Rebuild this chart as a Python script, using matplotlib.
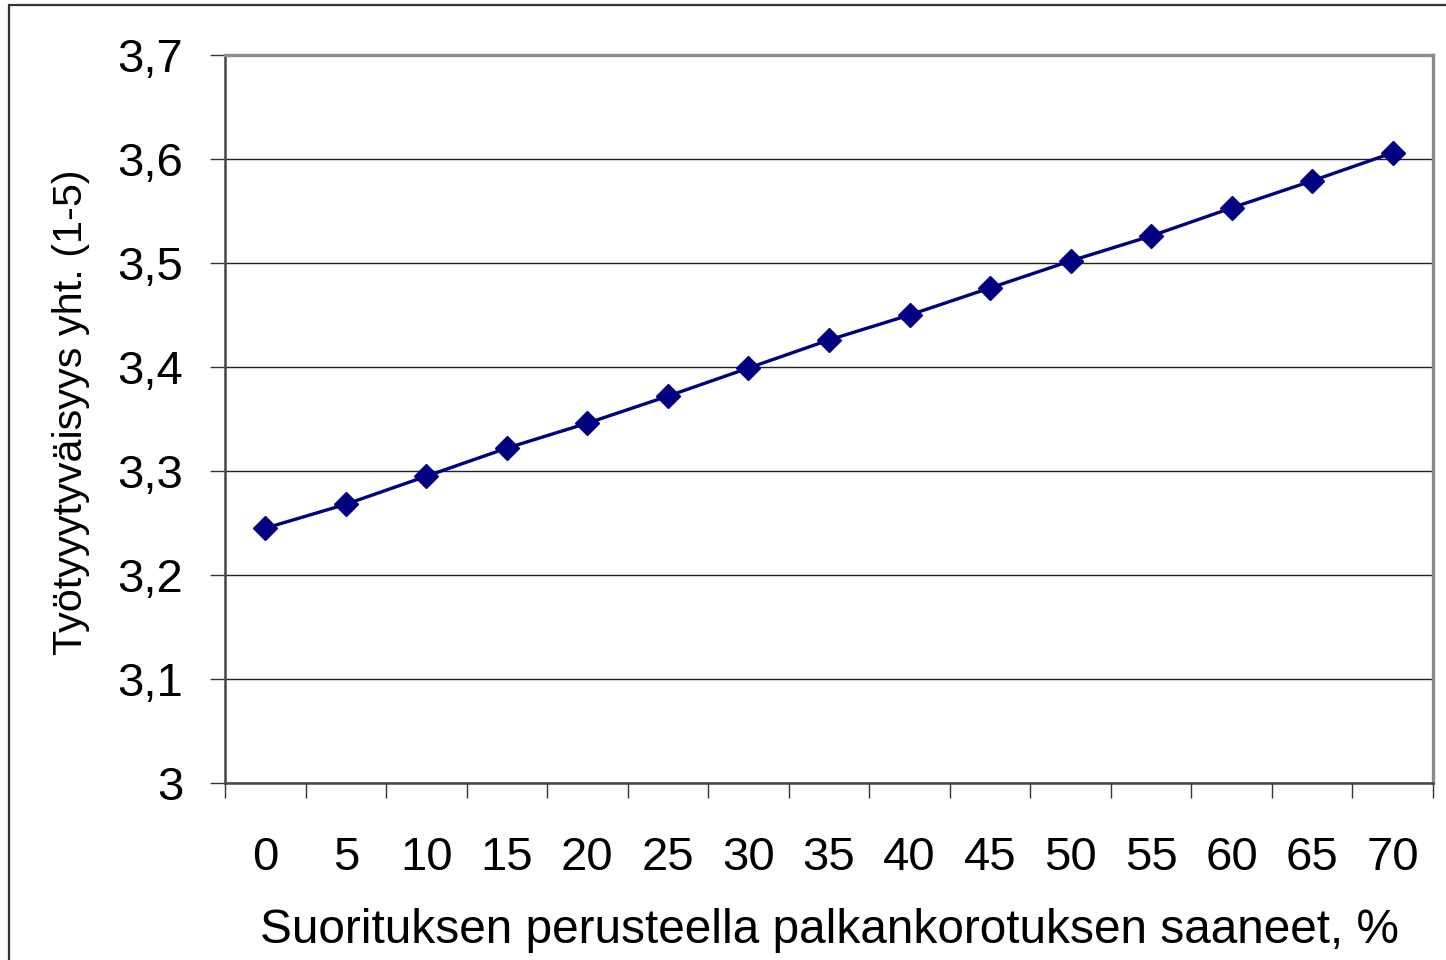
import matplotlib
matplotlib.use('Agg')
import matplotlib.pyplot as plt
from matplotlib.patches import Rectangle
from matplotlib.ticker import FixedLocator, NullFormatter

# Share of staff who received a performance-based raise (%) vs. job satisfaction
raise_share = [0, 5, 10, 15, 20, 25, 30, 35, 40, 45, 50, 55, 60, 65, 70]
satisfaction = [3.245, 3.268, 3.295, 3.322, 3.346, 3.372, 3.399, 3.426,
                3.450, 3.476, 3.502, 3.526, 3.553, 3.579, 3.606]
y_ticks = [3.0, 3.1, 3.2, 3.3, 3.4, 3.5, 3.6, 3.7]
y_tick_labels = ['3', '3,1', '3,2', '3,3', '3,4', '3,5', '3,6', '3,7']

plt.rcParams['font.family'] = ['Liberation Sans', 'DejaVu Sans']

fig = plt.figure(figsize=(14.46, 9.6), dpi=100)
ax = fig.add_axes([225 / 1446, 1 - 783 / 960, 1208 / 1446, 728 / 960])

# outer chart border, clipped at the right and bottom
fig.patches.append(Rectangle((9 / 1446, -0.1), 1.2, 0.1 + (960 - 5) / 960,
                             transform=fig.transFigure, fill=False,
                             edgecolor='#333333', linewidth=1.6))

pos = list(range(len(raise_share)))
ax.plot(pos, satisfaction, color='#000080', linewidth=2.4,
        marker='D', markersize=12.5, markerfacecolor='#000080',
        markeredgecolor='#000080', zorder=3)

ax.set_xlim(-0.5, len(raise_share) - 0.5)
ax.set_ylim(3.0, 3.7)

# category labels centred, tick marks between categories
ax.set_xticks(pos)
ax.set_xticklabels([str(v) for v in raise_share])
ax.xaxis.set_minor_locator(FixedLocator([p - 0.5 for p in range(len(pos) + 1)]))
ax.xaxis.set_minor_formatter(NullFormatter())
ax.tick_params(axis='x', which='major', length=0, pad=38, labelsize=34)
ax.tick_params(axis='x', which='minor', length=11, width=1.0, color='#333333')

ax.set_yticks(y_ticks)
ax.set_yticklabels(y_tick_labels)
ax.tick_params(axis='y', length=11, width=1.0, color='#333333', pad=19,
               labelsize=34)

ax.grid(axis='y', color='#222222', linewidth=1.0)
ax.set_axisbelow(True)

for side in ('top', 'right'):
    ax.spines[side].set_color('#8c8c8c')
    ax.spines[side].set_linewidth(2.4)
for side in ('left', 'bottom'):
    ax.spines[side].set_color('#444444')
    ax.spines[side].set_linewidth(1.8)

ax.set_xlabel('Suorituksen perusteella palkankorotuksen saaneet, %',
              fontsize=34.4, labelpad=20)
ax.set_ylabel('Työtyyytyväisyys yht. (1-5)', fontsize=29.8)
ax.yaxis.set_label_coords(-0.112, 0.51)

fig.savefig('out.png', dpi=100)
